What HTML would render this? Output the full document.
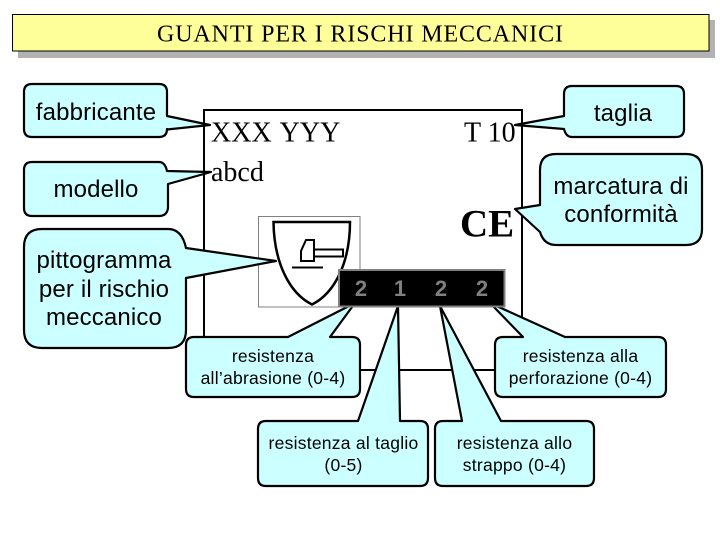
<!DOCTYPE html>
<html lang="it"><head><meta charset="utf-8"><title>Guanti per i rischi meccanici</title>
<style>html,body{margin:0;padding:0;background:#fff}svg{display:block}
.c{fill:#ccffff;stroke:#000;stroke-width:2.2;stroke-linejoin:round}
.s{font-family:"Liberation Sans",sans-serif;text-anchor:middle;fill:#000}
.b{font-size:24px;letter-spacing:.15px}
.m{font-size:17.500px;letter-spacing:.25px}
.r{font-family:"Liberation Serif",serif;fill:#000}
</style></head><body>
<svg width="720" height="540" viewBox="0 0 720 540" xmlns="http://www.w3.org/2000/svg">
<rect x="18" y="20" width="697" height="38" fill="#b2b2b2"/>
<rect x="12.5" y="14.5" width="696.5" height="36.5" fill="#ffff99" stroke="#000" stroke-width="1"/>
<text class="r" x="157" y="41.500" font-size="24" textLength="406" lengthAdjust="spacing">GUANTI PER I RISCHI MECCANICI</text>

<rect x="204" y="110" width="318" height="260" fill="#fff" stroke="#000" stroke-width="2"/>
<text class="r" x="211" y="141.500" font-size="28" word-spacing="2">XXX YYY</text>
<text class="r" x="211" y="181" font-size="28">abcd</text>
<text class="r" x="464" y="141.500" font-size="28">T 10</text>
<text class="r" x="460" y="236.500" font-size="39" font-weight="bold">CE</text>

<rect x="258.500" y="216.500" width="101.500" height="90.500" fill="#fff" stroke="#808080" stroke-width="1"/>
<path d="M273.500 222H350C350 262 335 293 312 304.500C289 293 274 262 273.500 222Z" fill="#fff" stroke="#000" stroke-width="2.500"/>
<path d="M301 261V251L306 240H314V261ZM314 249.500H343V256.500H314" fill="none" stroke="#000" stroke-width="2"/>
<path d="M292 267.500H323" stroke="#000" stroke-width="2" fill="none"/>

<path class="c" d="M32 84H159Q167 84 167 92V116L210 125L167 129.500V129Q167 137 159 137H32Q24 137 24 129V92Q24 84 32 84Z"/>
<path class="c" d="M32 162H159Q165 162 167 171L211 172L168 184V208Q167 216 159 216H32Q24 216 24 208V170Q24 162 32 162Z"/>
<path class="c" d="M42 229H168Q182 229 186 248L276 261L186 278V330Q186 348 168 348H42Q24 348 24 330V247Q24 229 42 229Z"/>
<path class="c" d="M572 86H676Q684 86 684 94V129Q684 137 676 137H572Q566 137 564 129L515 125L564 116V94Q564 86 572 86Z"/>
<path class="c" d="M556 154H686Q702 154 702 170V229Q702 245 686 245H556Q544 245 540 232L515 209L540 205V170Q540 154 556 154Z"/>
<path class="c" d="M194 337H288L355 303L330 337H352Q360 337 360 345V389Q360 397 352 397H194Q186 397 186 389V345Q186 337 194 337Z"/>
<path class="c" d="M266 421H358L398 306L400 421H420Q428 421 428 429V478Q428 486 420 486H266Q258 486 258 478V429Q258 421 266 421Z"/>
<path class="c" d="M443 421H462L440 306L501 421H586Q594 421 594 429V478Q594 486 586 486H443Q435 486 435 478V429Q435 421 443 421Z"/>
<path class="c" d="M503 337H523L490 303L565 337H658Q666 337 666 345V389Q666 397 658 397H503Q495 397 495 389V345Q495 337 503 337Z"/>

<rect x="339" y="270" width="165.500" height="36.500" fill="#000" stroke="#808080" stroke-width="2"/>
<g font-family="'Liberation Sans',sans-serif" font-size="22" fill="#808080" text-anchor="middle" font-weight="bold">
<text x="361" y="296">2</text><text x="400" y="296">1</text><text x="441" y="296">2</text><text x="482" y="296">2</text></g>

<text class="s b" x="96" y="120">fabbricante</text>
<text class="s b" x="96" y="197">modello</text>
<text class="s b" x="104" y="268">pittogramma</text>
<text class="s b" x="104" y="297">per il rischio</text>
<text class="s b" x="104" y="325">meccanico</text>
<text class="s b" x="623" y="121">taglia</text>
<text class="s b" x="621" y="194">marcatura di</text>
<text class="s b" x="621" y="222">conformità</text>

<text class="s m" x="273" y="362">resistenza</text>
<text class="s m" x="273" y="384">all’abrasione (0-4)</text>
<text class="s m" x="343.500" y="449">resistenza al taglio</text>
<text class="s m" x="343.500" y="471">(0-5)</text>
<text class="s m" x="514.500" y="449">resistenza allo</text>
<text class="s m" x="514.500" y="471">strappo (0-4)</text>
<text class="s m" x="580.500" y="362">resistenza alla</text>
<text class="s m" x="580.500" y="384">perforazione (0-4)</text>
</svg>
</body></html>
